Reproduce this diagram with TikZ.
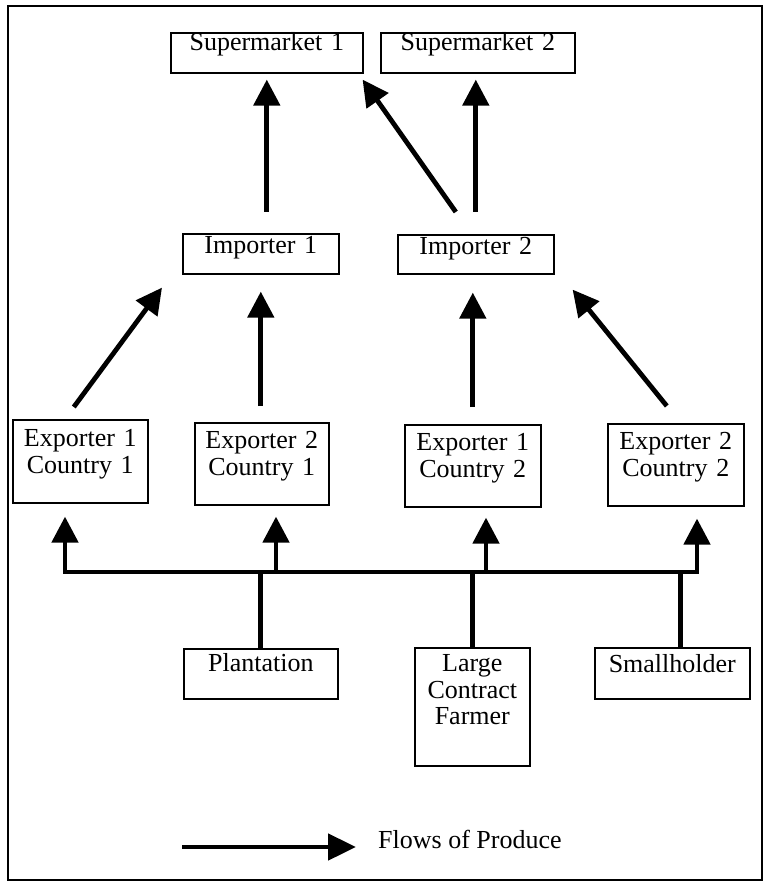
\documentclass[tikz,border=0pt]{standalone}
\usepackage{fontspec}
\setmainfont{Liberation Serif}
\usetikzlibrary{arrows.meta,calc}
\begin{document}
\begin{tikzpicture}[x=1pt,y=-1pt,
  box/.style={draw, line width=1.6pt, inner sep=0pt, align=center, anchor=north west,
    font=\fontsize{26}{26.5}\selectfont},
  flow/.style={line width=4.8pt, -{Triangle[length=26pt,width=26pt]}},
  busline/.style={line width=4.8pt, line cap=rect},
  drop/.style={line width=4.8pt}]
\useasboundingbox (0,0) rectangle (765,882);
\draw[line width=1.4pt] (8,6) rectangle (762,880);
% top level
\node[box, text width=192pt, text height=18pt, text depth=22pt] (sm1) at (170,32) {Supermarket 1};
\node[box, text width=194pt, text height=18pt, text depth=22pt] (sm2) at (380,32) {Supermarket 2};
% importers
\node[box, text width=156pt, text height=20pt, text depth=20pt] (imp1) at (182,233) {Importer 1};
\node[box, text width=156pt, text height=20pt, text depth=19pt] (imp2) at (397,234) {Importer 2};
% exporters
\node[box, text width=135pt, text height=27pt, text depth=56pt] (ex11) at (12,419) {Exporter 1\\Country 1};
\node[box, text width=134pt, text height=26pt, text depth=56pt] (ex21) at (194,422) {Exporter 2\\Country 1};
\node[box, text width=136pt, text height=26pt, text depth=56pt] (ex12) at (404,424) {Exporter 1\\Country 2};
\node[box, text width=136pt, text height=26pt, text depth=56pt] (ex22) at (607,423) {Exporter 2\\Country 2};
% producers
\node[box, text width=154pt, text height=23pt, text depth=27pt] (plant) at (183,648) {Plantation};
\node[box, text width=115pt, text height=24pt, text depth=94pt] (lcf) at (414,647) {Large\\Contract\\Farmer};
\node[box, text width=155pt, text height=25pt, text depth=26pt] (small) at (594,647) {Smallholder};
% importers -> supermarkets
\draw[flow, shorten <=21pt, shorten >=6pt] (imp1.north -| sm1.south) -- (sm1.south);
\draw[flow] ($(imp2.north)+(-20,-22)$) -- ($(sm1.south east)+(-1,6)$);
\draw[flow, shorten <=22pt, shorten >=6pt] (imp2.north) -- (imp2.north |- sm2.south);
% exporters -> importers
\draw[flow] ($(ex11.north)+(-6.5,-12)$) -- ($(imp1.south west)+(-20,13)$);
\draw[flow, shorten <=16pt, shorten >=17pt] (imp1.south |- ex21.north) -- (imp1.south);
\draw[flow, shorten <=17pt, shorten >=18pt] (ex12.north) -- (ex12.north |- imp2.south);
\draw[flow] ($(ex22.north)+(-9,-17)$) -- ($(imp2.south east)+(18,15)$);
% bus
\coordinate (bus1) at (65,572);
\coordinate (bus2) at (276,572);
\coordinate (bus3) at (486,572);
\coordinate (bus4) at (697,572);
\draw[busline] (bus1) -- (bus4);
\draw[flow, shorten >=13pt] (bus1) -- (bus1 |- ex11.south);
\draw[flow, shorten >=11pt] (bus2) -- (bus2 |- ex21.south);
\draw[flow, shorten >=10pt] (bus3) -- (bus3 |- ex12.south);
\draw[flow, shorten >=12pt] (bus4) -- (bus4 |- ex22.south);
\draw[drop] (plant.north) -- (plant.north |- bus1);
\draw[drop] (lcf.north) -- (lcf.north |- bus1);
\draw[drop] ($(small.north)+(8.5,0)$) -- ($(small.north |- bus1)+(8.5,0)$);
% legend
\coordinate (legA) at (182,847);
\node[anchor=base west, inner sep=0pt, font=\fontsize{26}{26.5}\selectfont] (legtext) at (378,848) {Flows of Produce};
\draw[line width=4.8pt, -{Triangle[length=28pt,width=26pt]}, shorten >=22pt] (legA) -- (legA -| legtext.west);
\end{tikzpicture}
\end{document}
